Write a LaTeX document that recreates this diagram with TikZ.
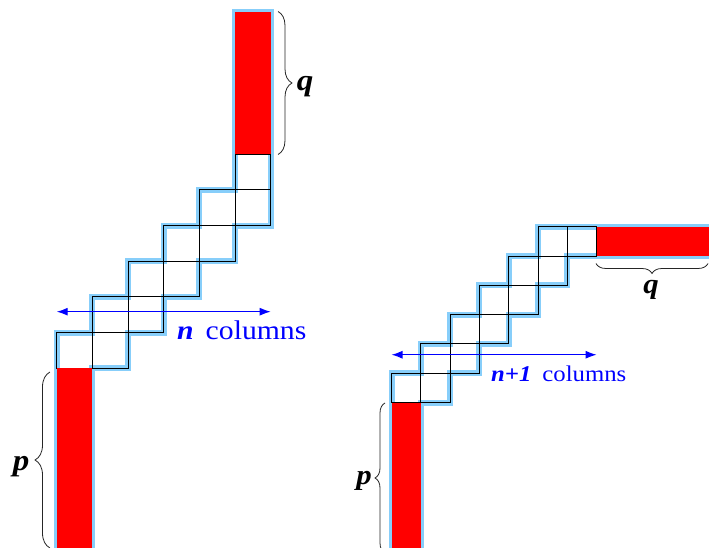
\documentclass[tikz,border=0pt]{standalone}
\usepackage{fontspec}
\setmainfont{Liberation Serif}[FakeStretch=1.1]
\usetikzlibrary{decorations.pathreplacing,arrows.meta}
\definecolor{outl}{RGB}{135,206,250}
\tikzset{
  outline/.style={draw=outl,line width=6pt,line join=miter},
  cellbox/.style={draw=black,line width=1pt},
  redbar/.style={fill=red,draw=none},
  bracebig/.style={draw=black!85,line width=0.8pt,decorate,decoration={brace,amplitude=#1}},
  colarrow/.style={draw=blue,line width=1.2pt,{Latex[length=11pt,width=8pt]}-{Latex[length=11pt,width=8pt]}},
  lbl/.style={anchor=base,inner sep=0pt,font=\fontsize{#1}{#1}\selectfont\bfseries\itshape},
  coltext/.style={anchor=base west,inner sep=0pt,text=blue,font=\fontsize{#1}{#1}\selectfont}
}
\begin{document}
\begin{tikzpicture}[x=1pt,y=-1pt]
\useasboundingbox (0,0) rectangle (709,548);
\clip (0,0) rectangle (709,548);
% ---------------- left staircase ----------------
\begin{scope}[shift={(56.7,368.3)},x=35.67pt,y=35.67pt]
  \draw[outline] (0,-6) -- (0,1) -- (1,1) -- (1,2) -- (2,2) -- (2,3) -- (3,3) -- (3,4) -- (4,4) -- (4,5) -- (5,5)
     -- (5,9.99) -- (6,9.99) -- (6,4) -- (5,4) -- (5,3) -- (4,3) -- (4,2) -- (3,2) -- (3,1) -- (2,1) -- (2,0) -- (1,0) -- (1,-6);
  \foreach \k/\m in {0/0,1/0,1/1,2/1,2/2,3/2,3/3,4/3,4/4,5/4,5/5}
    \draw[cellbox] (\k,\m) rectangle ++(1,1);
  \fill[redbar] (0,-6) rectangle (1,0);
  \fill[redbar] (5,6) rectangle (6,9.99);
  \coordinate (la1) at (0,1.587);
  \coordinate (la2) at (6,1.587);
\end{scope}
\draw[colarrow] (la1) -- (la2);
\node[coltext=27] (ltext) at (177,339.3) {\textbf{\textit{n}}\hspace{12pt}columns};
\coordinate (lq1) at (278,11.5);
\coordinate (lq2) at (278,154.5);
\draw[bracebig=14pt] (lq1) -- (lq2);
\node[lbl=30] (lq) at (305,90.5) {q};
\coordinate (lp1) at (50,548);
\coordinate (lp2) at (50,372);
\draw[bracebig=15pt] (lp1) -- (lp2);
\node[lbl=30] (lp) at (21,470) {p};
% ---------------- right staircase ----------------
\begin{scope}[shift={(391.5,402.5)},x=29.3pt,y=29.3pt]
  \draw[outline] (0,-6) -- (0,1) -- (1,1) -- (1,2) -- (2,2) -- (2,3) -- (3,3) -- (3,4) -- (4,4) -- (4,5) -- (5,5)
     -- (5,6) -- (11.5,6) -- (11.5,5) -- (6,5) -- (6,4) -- (5,4) -- (5,3) -- (4,3) -- (4,2) -- (3,2) -- (3,1) -- (2,1) -- (2,0) -- (1,0) -- (1,-6);
  \foreach \k/\m in {0/0,1/0,1/1,2/1,2/2,3/2,3/3,4/3,4/4,5/4,5/5,6/5}
    \draw[cellbox] (\k,\m) rectangle ++(1,1);
  \fill[redbar] (0,-6) rectangle (1,0);
  \fill[redbar] (7,5) rectangle (11.5,6);
  \coordinate (ra1) at (0,1.63);
  \coordinate (ra2) at (7,1.63);
\end{scope}
\draw[colarrow] (ra1) -- (ra2);
\node[coltext=22.5] (rtext) at (491,381) {\textbf{\textit{n+1}}\hspace{11pt}columns};
\coordinate (rq1) at (708,263.5);
\coordinate (rq2) at (596,263.5);
\draw[bracebig=10pt] (rq1) -- (rq2);
\node[lbl=28] (rq) at (651,293) {q};
\coordinate (rp1) at (385,553);
\coordinate (rp2) at (385,403);
\draw[bracebig=10pt] (rp1) -- (rp2);
\node[lbl=28] (rp) at (364,484) {p};
\end{tikzpicture}
\end{document}
